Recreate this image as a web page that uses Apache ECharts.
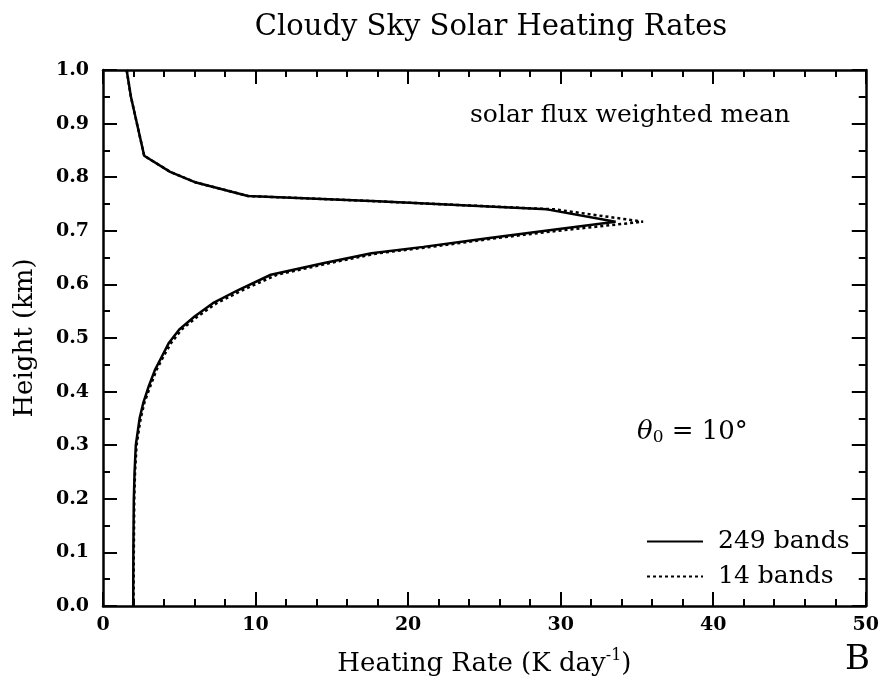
<!DOCTYPE html>
<html>
<head>
<meta charset="utf-8">
<script src="https://cdn.jsdelivr.net/npm/echarts@6/dist/echarts.min.js"></script>
<style>
  html, body { margin: 0; padding: 0; background: #fff; }
  #chart { width: 882px; height: 690px; }
</style>
</head>
<body>
<div id="chart"></div>
<script>
// Height levels (km) of the model layers
const heights = [1.0, 0.95, 0.84, 0.81, 0.79, 0.765, 0.755, 0.74, 0.717, 0.70, 0.686, 0.67, 0.658, 0.64, 0.618, 0.59, 0.565, 0.54, 0.516, 0.49, 0.465, 0.44, 0.41, 0.38, 0.35, 0.30, 0.25, 0.20, 0.10, 0.0];
// Heating rate (K/day), 249-band reference calculation
const rate249 = [1.55, 1.83, 2.7, 4.4, 6.1, 9.5, 18.0, 29.1, 33.6, 29.0, 25.2, 21.0, 17.6, 14.5, 11.0, 8.9, 7.2, 6.0, 5.0, 4.3, 3.85, 3.4, 3.0, 2.65, 2.4, 2.15, 2.07, 2.02, 1.99, 1.98];
// Heating rate (K/day), 14-band parameterization
const rate14 = [1.55, 1.83, 2.7, 4.4, 6.1, 9.5, 18.0, 29.6, 35.4, 29.8, 25.7, 21.5, 18.0, 14.9, 11.4, 9.2, 7.45, 6.2, 5.15, 4.45, 3.95, 3.5, 3.1, 2.72, 2.47, 2.2, 2.1, 2.05, 2.02, 2.0];
const xTicks = [0, 10, 20, 30, 40, 50];
const yTicks = [0.0, 0.1, 0.2, 0.3, 0.4, 0.5, 0.6, 0.7, 0.8, 0.9, 1.0];

const serif = '"DejaVu Serif", "Liberation Serif", serif';
const pairs = (xs, ys) => xs.map((v, i) => [v, ys[i]]);

const axisLine = { show: true, onZero: false, lineStyle: { color: '#000', width: 2.5 } };
const majorTick = { show: true, inside: true, length: 14, lineStyle: { color: '#000', width: 2 } };
const minorTickX = { show: true, splitNumber: 5, length: 7, lineStyle: { color: '#000', width: 2 } };
const minorTickY = { show: true, splitNumber: 2, length: 7, lineStyle: { color: '#000', width: 2 } };

const chart = echarts.init(document.getElementById('chart'), null, { renderer: 'canvas' });
chart.setOption({
  backgroundColor: '#fff',
  animation: false,
  title: {
    text: 'Cloudy Sky Solar Heating Rates',
    left: 486, top: 8, textAlign: 'center',
    textStyle: { fontFamily: serif, fontSize: 29, fontWeight: 'normal', color: '#000' }
  },
  grid: { left: 103, right: 14, top: 70, bottom: 84 },
  xAxis: [{
    type: 'value', min: xTicks[0], max: xTicks[xTicks.length - 1], interval: 10,
    position: 'bottom',
    axisLine, axisTick: majorTick, minorTick: minorTickX,
    splitLine: { show: false },
    axisLabel: { color: '#000', fontFamily: serif, fontWeight: 'bold', fontSize: 19, margin: 10 },
    name: '{t|Heating Rate (K day}{s|-1}{t|)}',
    nameLocation: 'middle', nameGap: 42,
    nameTextStyle: {
      rich: {
        t: { fontFamily: serif, fontSize: 26, color: '#000' },
        s: { fontFamily: serif, fontSize: 16, color: '#000', verticalAlign: 'top', padding: [0, 0, 16, 0] }
      }
    }
  }, {
    type: 'value', min: xTicks[0], max: xTicks[xTicks.length - 1], interval: 10,
    position: 'top',
    axisLine, axisTick: majorTick, minorTick: minorTickX,
    splitLine: { show: false }, axisLabel: { show: false }
  }],
  yAxis: [{
    type: 'value', min: yTicks[0], max: yTicks[yTicks.length - 1], interval: 0.1,
    position: 'left',
    axisLine, axisTick: majorTick, minorTick: minorTickY,
    splitLine: { show: false },
    axisLabel: {
      color: '#000', fontFamily: serif, fontWeight: 'bold', fontSize: 19, margin: 14,
      formatter: v => v.toFixed(1)
    },
    name: 'Height (km)',
    nameLocation: 'middle', nameGap: 65, nameRotate: 90,
    nameTextStyle: { fontFamily: serif, fontSize: 26, color: '#000' }
  }, {
    type: 'value', min: yTicks[0], max: yTicks[yTicks.length - 1], interval: 0.1,
    position: 'right',
    axisLine, axisTick: majorTick, minorTick: minorTickY,
    splitLine: { show: false }, axisLabel: { show: false }
  }],
  legend: {
    orient: 'vertical', left: 641, top: 524,
    itemWidth: 56, itemHeight: 14, itemGap: 10,
    itemStyle: { opacity: 0 },
    textStyle: { fontFamily: serif, fontSize: 25, color: '#000', padding: [0, 0, 0, 10] },
    data: ['249 bands', '14 bands']
  },
  series: [{
    name: '249 bands', type: 'line', showSymbol: false, symbol: 'none',
    data: pairs(rate249, heights),
    itemStyle: { color: '#000' },
    lineStyle: { color: '#000', width: 2.5, type: 'solid' }
  }, {
    name: '14 bands', type: 'line', showSymbol: false, symbol: 'none',
    data: pairs(rate14, heights),
    itemStyle: { color: '#000' },
    lineStyle: { color: '#000', width: 2.5, type: [3, 3] }
  }],
  graphic: [{
    type: 'text', left: 470, top: 103,
    style: { text: 'solar flux weighted mean', fontFamily: serif, fontSize: 25, fill: '#000' }
  }, {
    type: 'text', left: 637, top: 419,
    style: {
      text: '{th|θ}{sub|0}{eq| = 10°}',
      rich: {
        th: { fontFamily: serif, fontStyle: 'italic', fontSize: 26, fill: '#000' },
        sub: { fontFamily: serif, fontSize: 17, fill: '#000', verticalAlign: 'bottom', padding: [12, 0, 0, 0] },
        eq: { fontFamily: serif, fontSize: 26, fill: '#000' }
      }
    }
  }, {
    type: 'text', right: 12, top: 643,
    style: { text: 'B', fontFamily: serif, fontSize: 34, fill: '#000' }
  }]
});
</script>
</body>
</html>
